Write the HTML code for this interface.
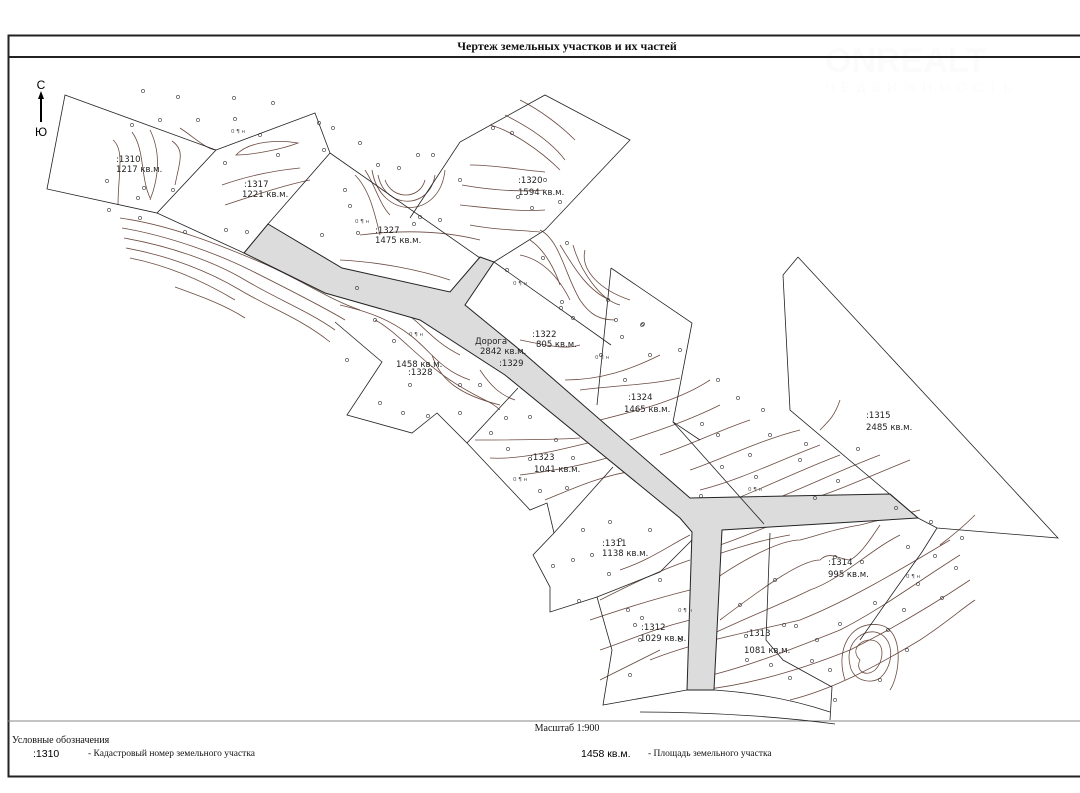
<!DOCTYPE html>
<html><head><meta charset="utf-8">
<style>
html,body{margin:0;padding:0;background:#fff;width:1080px;height:793px;overflow:hidden}
svg{display:block}
.t{font-family:"DejaVu Sans","Liberation Sans",sans-serif;font-size:8.5px;fill:#222}
.s{font-family:"Liberation Serif",serif;fill:#111}
</style></head><body>
<svg width="1080" height="793" viewBox="0 0 1080 793" xmlns="http://www.w3.org/2000/svg">
<g opacity="0.025" fill="#888">
<text x="825" y="72" font-family="Liberation Sans" font-weight="bold" font-size="34">ONREALT</text>
<text x="825" y="92" font-family="Liberation Sans" font-size="14" letter-spacing="6">НЕДВИЖИМОСТЬ</text>
</g>
<rect x="8.5" y="35.5" width="1090" height="741" fill="none" stroke="#222" stroke-width="2"/>
<line x1="8" y1="57" x2="1080" y2="57" stroke="#222" stroke-width="2"/>
<line x1="8" y1="721" x2="1080" y2="721" stroke="#888" stroke-width="1"/>
<text x="567" y="50" text-anchor="middle" class="s" font-weight="bold" font-size="12">Чертеж земельных участков и их частей</text>

<text x="41" y="89" text-anchor="middle" font-family="Liberation Sans" font-size="12">С</text>
<line x1="41" y1="95" x2="41" y2="122" stroke="#000" stroke-width="2"/>
<path d="M38,99 L41,91 L44,99Z" fill="#000"/>
<text x="41" y="136" text-anchor="middle" font-family="Liberation Sans" font-size="12">Ю</text>

<g fill="none" stroke="#6b4a40" stroke-width="0.8">
<path d="M120,218 C170,225 220,245 260,262 S330,300 360,310"/>
<path d="M122,228 C170,236 220,255 250,270 S320,305 345,320"/>
<path d="M124,238 C170,246 215,262 245,280 S310,312 335,330"/>
<path d="M126,248 C170,256 210,272 240,290 S300,318 330,342"/>
<path d="M130,258 C170,266 205,282 235,300"/>
<path d="M175,287 C200,296 225,305 245,318"/>
<path d="M113,140 C125,150 118,175 118,205"/>
<path d="M132,132 C145,150 140,175 150,198"/>
<path d="M150,130 C160,150 160,175 150,200"/>
<path d="M180,128 C195,138 205,148 215,150"/>
<path d="M172,141 C185,150 180,160 175,185"/>
<path d="M236,155 C250,140 280,140 298,143 C280,150 250,155 236,155Z"/>
<path d="M222,185 C250,175 280,170 300,168"/>
<path d="M225,205 C255,195 285,185 310,180"/>
<path d="M355,175 C370,190 375,215 380,235"/>
<path d="M365,170 C375,185 380,205 390,215"/>
<path d="M385,180 C392,200 420,200 425,180"/>
<path d="M378,175 C385,210 430,210 435,175"/>
<path d="M372,170 C380,220 440,220 445,170"/>
<path d="M360,235 C400,230 440,230 480,240"/>
<path d="M340,260 C380,262 420,270 450,280"/>
<path d="M470,165 C495,165 520,170 545,172"/>
<path d="M462,185 C490,190 520,192 545,190"/>
<path d="M460,205 C490,208 520,212 545,210"/>
<path d="M470,225 C495,230 520,230 540,232"/>
<path d="M490,125 C510,130 540,150 560,170"/>
<path d="M505,115 C525,125 550,140 565,160"/>
<path d="M520,100 C540,110 560,125 575,140"/>
<path d="M560,245 C570,260 585,290 610,300"/>
<path d="M573,245 C580,270 600,300 620,305"/>
<path d="M585,250 C580,270 600,290 630,300"/>
<path d="M520,255 C545,260 560,280 570,300"/>
<path d="M530,240 C545,250 555,270 560,285"/>
<path d="M540,230 C560,240 565,275 580,300 C590,315 600,320 615,320"/>
<path d="M330,292 C360,300 380,300 400,310 S430,340 460,355"/>
<path d="M340,305 C370,312 390,320 410,335 S440,370 470,380"/>
<path d="M375,320 C395,330 420,360 450,380 S490,400 500,410"/>
<path d="M432,355 C440,380 460,395 500,405"/>
<path d="M480,370 C490,385 500,395 515,400"/>
<path d="M520,340 C545,345 565,350 580,345"/>
<path d="M565,380 C600,380 630,370 660,355"/>
<path d="M580,390 C620,385 650,385 680,378"/>
<path d="M475,440 C510,440 550,440 580,438"/>
<path d="M490,458 C520,460 560,450 600,440"/>
<path d="M520,475 C560,470 600,462 630,450"/>
<path d="M545,500 C570,490 600,475 640,470"/>
<path d="M600,420 C640,410 680,400 710,380"/>
<path d="M630,440 C660,430 690,420 720,405"/>
<path d="M660,455 C690,445 720,430 750,420"/>
<path d="M690,470 C720,460 760,440 800,430"/>
<path d="M700,490 C740,480 780,460 820,445"/>
<path d="M720,505 C760,490 800,470 840,455"/>
<path d="M760,505 C800,490 840,470 880,455"/>
<path d="M790,505 C830,495 860,480 910,460"/>
<path d="M720,545 C750,535 780,520 800,515"/>
<path d="M700,560 C730,550 760,540 790,535"/>
<path d="M700,590 C740,560 780,540 800,540 C820,535 830,530 860,525 C880,520 900,515 920,510"/>
<path d="M720,620 C760,590 800,560 820,560 C830,550 840,560 850,560 C860,555 870,540 880,525"/>
<path d="M700,640 C740,620 780,605 810,590 C840,580 870,550 900,535"/>
<path d="M650,660 C700,640 760,630 800,620 C850,600 900,570 950,540"/>
<path d="M690,680 C740,670 790,650 840,630 C880,610 920,580 960,555"/>
<path d="M700,690 C750,685 800,670 850,650 C900,625 940,600 970,580"/>
<path d="M790,700 C830,690 870,670 920,640 C950,620 960,610 975,600"/>
<path d="M600,680 C620,670 640,660 660,650"/>
<path d="M600,650 C630,640 650,630 690,620"/>
<path d="M590,620 C620,610 650,600 690,590"/>
<path d="M600,600 C630,585 660,570 690,560"/>
<path d="M620,570 C650,560 670,545 690,535"/>
<path d="M860,660 C850,650 860,640 870,640 C885,640 885,660 875,670 C865,678 855,670 860,660Z"/>
<path d="M850,665 C845,645 860,630 875,632 C895,636 895,665 880,678 C870,685 852,680 850,665Z"/>
<path d="M845,680 C835,650 850,620 880,625 C905,630 900,675 890,690"/>
<path d="M940,545 C960,530 970,520 975,515"/>
<path d="M820,430 C830,420 835,415 840,400"/>
</g>

<polygon points="268,224 342,268 450,292 480,257 494,262 465,305 520,350 690,498 890,494 918,518 722,530 714,690 687,690 692,532 680,518 505,375 420,320 325,293 244,253" fill="#dcdcdc" stroke="#222" stroke-width="1"/>

<g fill="none" stroke="#222" stroke-width="0.8">
<polygon points="65,95 216,150 157,213 47,189"/>
<polyline points="216,150 315,113 330,153 268,224"/>
<polyline points="157,213 244,253"/>
<polyline points="330,153 480,258"/>
<polyline points="410,218 460,142 545,95 630,140 545,230 494,262"/>
<polyline points="494,262 611,345"/>
<polyline points="611,268 597,405"/>
<polyline points="611,268 692,323 673,422 700,440"/>
<polyline points="673,422 764,524"/>
<polyline points="335,322 382,362 347,415 412,433 437,413 467,443 518,388"/>
<polyline points="467,443 530,510 547,503 554,533 533,555 550,587 550,612 597,597 660,572 692,540"/>
<polyline points="554,533 613,467"/>
<polyline points="597,597 612,650 603,705 687,690"/>
<polyline points="770,533 766,640 783,660 832,687 830,720"/>
<polyline points="798,257 783,275 790,410 918,518"/>
<polyline points="798,257 1058,538 937,528 918,518"/>
<polyline points="937,528 922,552 895,590 860,640"/>
<path d="M714,690 C760,693 800,702 830,712 M640,712 C720,712 790,718 835,724"/>
</g>

<g fill="none" stroke="#333" stroke-width="0.6">
<circle cx="143" cy="91" r="1.6"/><circle cx="178" cy="97" r="1.6"/><circle cx="234" cy="98" r="1.6"/><circle cx="273" cy="103" r="1.6"/>
<circle cx="132" cy="125" r="1.6"/><circle cx="160" cy="120" r="1.6"/><circle cx="198" cy="120" r="1.6"/><circle cx="235" cy="119" r="1.6"/>
<circle cx="260" cy="135" r="1.6"/><circle cx="225" cy="163" r="1.6"/><circle cx="278" cy="155" r="1.6"/><circle cx="107" cy="181" r="1.6"/>
<circle cx="144" cy="188" r="1.6"/><circle cx="138" cy="198" r="1.6"/><circle cx="173" cy="190" r="1.6"/><circle cx="109" cy="210" r="1.6"/>
<circle cx="140" cy="218" r="1.6"/><circle cx="185" cy="232" r="1.6"/><circle cx="226" cy="230" r="1.6"/><circle cx="247" cy="232" r="1.6"/>
<circle cx="319" cy="123" r="1.6"/><circle cx="333" cy="128" r="1.6"/><circle cx="360" cy="143" r="1.6"/><circle cx="324" cy="150" r="1.6"/>
<circle cx="345" cy="190" r="1.6"/><circle cx="350" cy="206" r="1.6"/><circle cx="378" cy="165" r="1.6"/><circle cx="399" cy="168" r="1.6"/>
<circle cx="418" cy="155" r="1.6"/><circle cx="433" cy="155" r="1.6"/><circle cx="420" cy="217" r="1.6"/><circle cx="440" cy="220" r="1.6"/>
<circle cx="414" cy="224" r="1.6"/><circle cx="358" cy="233" r="1.6"/><circle cx="322" cy="235" r="1.6"/><circle cx="460" cy="180" r="1.6"/>
<circle cx="493" cy="128" r="1.6"/><circle cx="512" cy="133" r="1.6"/><circle cx="545" cy="180" r="1.6"/><circle cx="518" cy="197" r="1.6"/>
<circle cx="532" cy="208" r="1.6"/><circle cx="560" cy="202" r="1.6"/><circle cx="507" cy="270" r="1.6"/><circle cx="543" cy="258" r="1.6"/>
<circle cx="567" cy="243" r="1.6"/><circle cx="561" cy="308" r="1.6"/><circle cx="573" cy="318" r="1.6"/><circle cx="608" cy="300" r="1.6"/>
<circle cx="562" cy="302" r="1.6"/><circle cx="616" cy="320" r="1.6"/><circle cx="643" cy="324" r="1.6"/><circle cx="680" cy="350" r="1.6"/>
<circle cx="622" cy="337" r="1.6"/><circle cx="650" cy="355" r="1.6"/><circle cx="601" cy="355" r="1.6"/><circle cx="625" cy="380" r="1.6"/>
<circle cx="347" cy="360" r="1.6"/><circle cx="357" cy="288" r="1.6"/><circle cx="375" cy="320" r="1.6"/><circle cx="394" cy="341" r="1.6"/>
<circle cx="380" cy="403" r="1.6"/><circle cx="410" cy="385" r="1.6"/><circle cx="403" cy="413" r="1.6"/><circle cx="460" cy="385" r="1.6"/>
<circle cx="480" cy="385" r="1.6"/><circle cx="428" cy="416" r="1.6"/><circle cx="460" cy="413" r="1.6"/><circle cx="491" cy="433" r="1.6"/>
<circle cx="506" cy="418" r="1.6"/><circle cx="530" cy="417" r="1.6"/><circle cx="556" cy="440" r="1.6"/><circle cx="573" cy="458" r="1.6"/>
<circle cx="530" cy="459" r="1.6"/><circle cx="508" cy="449" r="1.6"/><circle cx="540" cy="491" r="1.6"/><circle cx="567" cy="488" r="1.6"/>
<circle cx="583" cy="530" r="1.6"/><circle cx="610" cy="522" r="1.6"/><circle cx="620" cy="540" r="1.6"/><circle cx="650" cy="530" r="1.6"/>
<circle cx="609" cy="574" r="1.6"/><circle cx="592" cy="555" r="1.6"/><circle cx="573" cy="560" r="1.6"/><circle cx="553" cy="566" r="1.6"/>
<circle cx="579" cy="601" r="1.6"/><circle cx="628" cy="610" r="1.6"/><circle cx="635" cy="625" r="1.6"/><circle cx="642" cy="618" r="1.6"/>
<circle cx="640" cy="640" r="1.6"/><circle cx="630" cy="675" r="1.6"/><circle cx="680" cy="640" r="1.6"/><circle cx="660" cy="580" r="1.6"/>
<circle cx="718" cy="380" r="1.6"/><circle cx="738" cy="398" r="1.6"/><circle cx="763" cy="410" r="1.6"/><circle cx="702" cy="424" r="1.6"/>
<circle cx="718" cy="435" r="1.6"/><circle cx="750" cy="455" r="1.6"/><circle cx="770" cy="435" r="1.6"/><circle cx="806" cy="444" r="1.6"/>
<circle cx="800" cy="460" r="1.6"/><circle cx="858" cy="449" r="1.6"/><circle cx="815" cy="498" r="1.6"/><circle cx="838" cy="481" r="1.6"/>
<circle cx="701" cy="496" r="1.6"/><circle cx="722" cy="467" r="1.6"/><circle cx="756" cy="477" r="1.6"/><circle cx="896" cy="508" r="1.6"/>
<circle cx="931" cy="522" r="1.6"/><circle cx="962" cy="538" r="1.6"/><circle cx="908" cy="547" r="1.6"/><circle cx="935" cy="556" r="1.6"/>
<circle cx="956" cy="568" r="1.6"/><circle cx="918" cy="584" r="1.6"/><circle cx="942" cy="598" r="1.6"/><circle cx="904" cy="610" r="1.6"/>
<circle cx="875" cy="603" r="1.6"/><circle cx="862" cy="562" r="1.6"/><circle cx="840" cy="624" r="1.6"/><circle cx="817" cy="640" r="1.6"/>
<circle cx="796" cy="626" r="1.6"/><circle cx="784" cy="625" r="1.6"/><circle cx="771" cy="665" r="1.6"/><circle cx="790" cy="678" r="1.6"/>
<circle cx="812" cy="661" r="1.6"/><circle cx="830" cy="670" r="1.6"/><circle cx="907" cy="650" r="1.6"/><circle cx="888" cy="630" r="1.6"/>
<circle cx="835" cy="700" r="1.6"/><circle cx="775" cy="580" r="1.6"/><circle cx="740" cy="605" r="1.6"/><circle cx="746" cy="636" r="1.6"/>
<circle cx="747" cy="660" r="1.6"/><circle cx="835" cy="557" r="1.6"/><circle cx="880" cy="680" r="1.6"/><circle cx="642" cy="325" r="1.6"/>
</g>

<g class="t">
<text x="116" y="162">:1310</text><text x="116" y="172">1217 кв.м.</text>
<text x="244" y="187">:1317</text><text x="242" y="197">1221 кв.м.</text>
<text x="375" y="233">:1327</text><text x="375" y="243">1475 кв.м.</text>
<text x="518" y="183">:1320</text><text x="518" y="195">1594 кв.м.</text>
<text x="532" y="337">:1322</text><text x="536" y="347">805 кв.м.</text>
<text x="475" y="344">Дорога</text><text x="480" y="354">2842 кв.м.</text><text x="499" y="366">:1329</text>
<text x="396" y="367">1458 кв.м.</text><text x="408" y="375">:1328</text>
<text x="628" y="400">:1324</text><text x="624" y="412">1465 кв.м.</text>
<text x="530" y="460">:1323</text><text x="534" y="472">1041 кв.м.</text>
<text x="866" y="418">:1315</text><text x="866" y="430">2485 кв.м.</text>
<text x="602" y="546">:1311</text><text x="602" y="556">1138 кв.м.</text>
<text x="828" y="565">:1314</text><text x="828" y="577">995 кв.м.</text>
<text x="641" y="630">:1312</text><text x="640" y="641">1029 кв.м.</text>
<text x="746" y="636">:1313</text><text x="744" y="653">1081 кв.м.</text>
<g font-size="5.5" fill="#555">
<text x="231" y="133">0 ¶ н</text><text x="355" y="223">0 ¶ н</text><text x="409" y="336">0 ¶ н</text>
<text x="513" y="285">0 ¶ н</text><text x="595" y="359">0 ¶ н</text><text x="513" y="481">0 ¶ н</text>
<text x="748" y="491">0 ¶ н</text><text x="906" y="578">0 ¶ н</text><text x="678" y="612">0 ¶ н</text>
</g>
</g>

<text x="567" y="731" text-anchor="middle" class="s" font-size="10">Масштаб 1:900</text>
<text x="12" y="743" class="s" font-size="10">Условные обозначения</text>
<text x="33" y="757" font-family="Liberation Sans" font-size="10.5">:1310</text>
<text x="88" y="756" class="s" font-size="9.5">- Кадастровый номер земельного участка</text>
<text x="581" y="757" font-family="Liberation Sans" font-size="10.5">1458 кв.м.</text>
<text x="648" y="756" class="s" font-size="9.5">- Площадь земельного участка</text>
</svg>
</body></html>
